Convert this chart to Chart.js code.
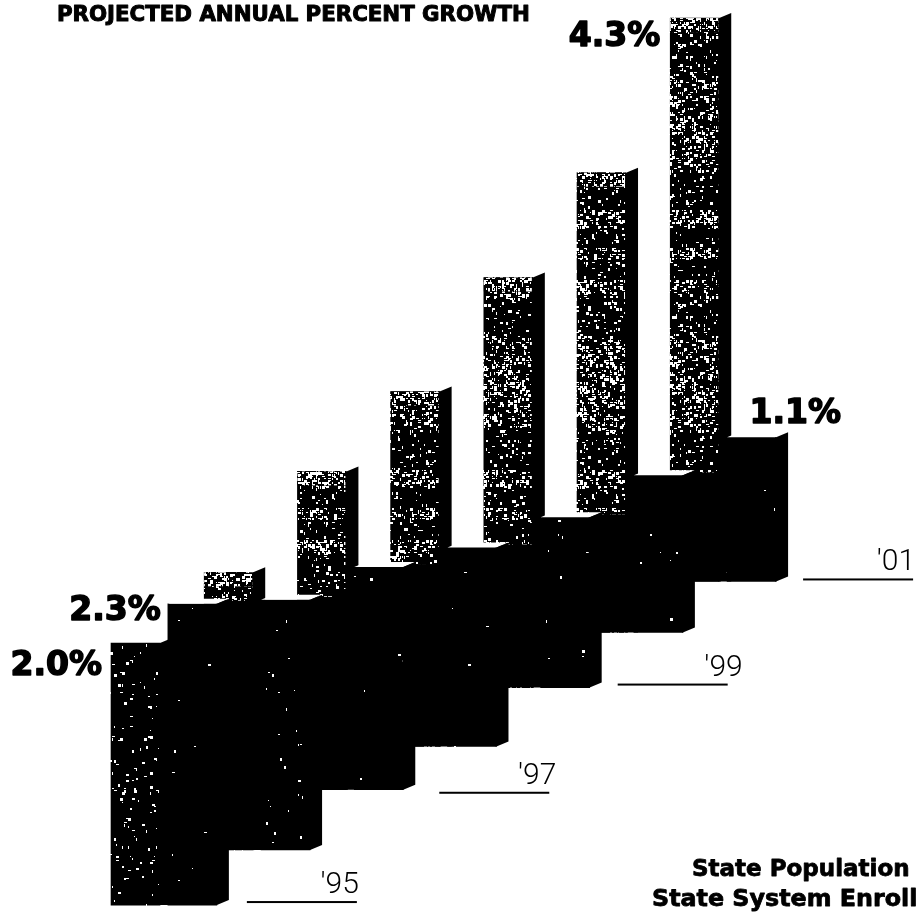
<!DOCTYPE html>
<html>
<head>
<meta charset="utf-8">
<title>Projected annual percent growth</title>
<script src="https://cdn.jsdelivr.net/npm/chart.js@4"></script>
<style>
  html, body { margin: 0; background: #fff; overflow: hidden; }
  canvas { display: block; }
</style>
</head>
<body>
<canvas id="growthChart" width="916" height="912"></canvas>
<script>
const years = [1995, 1996, 1997, 1998, 1999, 2000, 2001];
const yearLabels = ["'95", "'96", "'97", "'98", "'99", "'00", "'01"];
const populationGrowth = [2.3, 1.91, 1.7, 1.52, 1.3, 1.2, 1.1];
const enrollmentGrowth = [2.0, 2.12, 2.43, 2.71, 3.13, 3.51, 4.3];
// each year's bars stand one stair higher than the year before
const stairBase = [0, 0.42, 0.88, 1.21, 1.66, 2.08, 2.47];

const HEAVY = '"DejaVu Sans"';
const DEPTH_X = 12;
const DEPTH_Y = 5;

// small repeatable generator so the print grain is the same on every load
function makeRand(seed) {
  let s = seed;
  return function () {
    s = (s * 1664525 + 1013904223) % 4294967296;
    return s / 4294967296;
  };
}

function grainPattern(size, seed, density, banded) {
  const tile = document.createElement('canvas');
  tile.width = tile.height = size;
  const g = tile.getContext('2d');
  const rand = makeRand(seed);
  g.fillStyle = '#000';
  g.fillRect(0, 0, size, size);
  g.fillStyle = '#fff';
  for (let y = 0; y < size; y += 2) {
    const band = Math.floor(y / 19);
    const level = banded ? 0.4 + 1.5 * Math.pow(Math.abs(Math.sin(band * band * 1.7)), 2) : 1;
    for (let x = 0; x < size; x += 2) {
      if (rand() < density * level) {
        g.fillRect(x, y, 1 + Math.floor(rand() * 3), 1 + Math.floor(rand() * 3));
      }
    }
  }
  return g.createPattern(tile, 'repeat');
}

const denseGrain = grainPattern(260, 7, 0.15, true);
const sparseGrain = grainPattern(260, 23, 0.035, false);
const blackGrain = grainPattern(260, 41, 0.004, false);
const brightGrain = grainPattern(260, 59, 0.42, false);

function facePath(ctx, pts) {
  ctx.beginPath();
  pts.forEach((p, i) => (i ? ctx.lineTo(p[0], p[1]) : ctx.moveTo(p[0], p[1])));
  ctx.closePath();
  ctx.fill();
}

const depthFaces = {
  id: 'depthFaces',
  afterDatasetDraw(chart, args) {
    const ctx = chart.ctx;
    const isFront = args.index === 0;
    const frontBars = chart.getDatasetMeta(0).data;
    ctx.save();
    args.meta.data.forEach((bar, i) => {
      const left = bar.x - bar.width / 2;
      const right = bar.x + bar.width / 2;
      const top = Math.min(bar.y, bar.base);
      const bottom = Math.max(bar.y, bar.base);
      if (isFront) {
        ctx.fillStyle = '#fff';
        facePath(ctx, [[left, top], [right, top], [right + DEPTH_X, top - DEPTH_Y], [left + DEPTH_X, top - DEPTH_Y]]);
      } else if (i > 0) {
        // lighter band of ink along the top of the rear bars
        ctx.fillStyle = brightGrain;
        ctx.fillRect(left, top, bar.width, 14);
        // the year in front throws the lower part of the rear bar into shadow
        const shadowTop = Math.min(frontBars[i - 1].y, frontBars[i - 1].base) - 3;
        ctx.fillStyle = '#000';
        ctx.fillRect(Math.floor(left), shadowTop, Math.ceil(bar.width) + 2, bottom - shadowTop);
      }
      // side face overlaps the front by a pixel so no seam shows between them;
      // rear bars keep a flat foot so the stair has no notch
      const sideFoot = isFront ? bottom - DEPTH_Y : bottom;
      ctx.fillStyle = '#000';
      facePath(ctx, [[right - 1, top], [right, top], [right + DEPTH_X, top - DEPTH_Y], [right + DEPTH_X, sideFoot], [right, bottom], [right - 1, bottom]]);
    });
    ctx.restore();
  }
};

const percentLabels = [
  { dataset: 1, index: 0, dx: -9, dy: 32 },
  { dataset: 0, index: 0, dx: -7, dy: 16 },
  { dataset: 1, index: 6, dx: -10, dy: 28 },
  { dataset: 0, index: 6, dx: 114, dy: -14 }
];
const yearTicks = [
  { index: 0, lineDx: 0, lineY: -3, textDx: 2 },
  { index: 2, lineDx: 6, lineY: 3, textDx: 7 },
  { index: 4, lineDx: -2, lineY: -3, textDx: 15 },
  { index: 6, lineDx: -3, lineY: -2, textDx: 2 }
];

function heavyText(ctx, text, x, y, weight) {
  ctx.lineWidth = weight;
  ctx.strokeText(text, x, y);
  ctx.fillText(text, x, y);
}

const chartText = {
  id: 'chartText',
  afterDraw(chart) {
    const ctx = chart.ctx;
    ctx.save();
    ctx.fillStyle = '#000';
    ctx.strokeStyle = '#000';
    ctx.lineJoin = 'round';
    ctx.textBaseline = 'alphabetic';

    ctx.textAlign = 'left';
    ctx.font = `900 21.3px ${HEAVY}`;
    heavyText(ctx, 'PROJECTED ANNUAL PERCENT GROWTH', 57, 21, 1);

    // value labels hang off the top-left corner of their bars
    ctx.font = `900 33px ${HEAVY}`;
    ctx.textAlign = 'right';
    percentLabels.forEach(l => {
      const bar = chart.getDatasetMeta(l.dataset).data[l.index];
      const value = chart.data.datasets[l.dataset].data[l.index].y;
      const text = (value[1] - value[0]).toFixed(1) + '%';
      heavyText(ctx, text, bar.x - bar.width / 2 + l.dx, Math.min(bar.y, bar.base) + l.dy, 1.5);
    });

    // year labels sit on a short rule beside the foot of each stair
    const frontBars = chart.getDatasetMeta(0).data;
    ctx.font = '300 30px Roboto';
    yearTicks.forEach(t => {
      const bar = frontBars[t.index];
      const x0 = bar.x + bar.width / 2 + DEPTH_X + 18 + t.lineDx;
      const y0 = Math.max(bar.y, bar.base) + t.lineY;
      ctx.fillRect(x0, y0 - 1, 110, 2);
      ctx.fillText(yearLabels[t.index], x0 + 110 + t.textDx, y0 - 9);
    });

    ctx.textAlign = 'left';
    ctx.font = `900 23px ${HEAVY}`;
    heavyText(ctx, chart.data.datasets[0].label, 692, 876, 0.8);
    ctx.font = `900 23.8px ${HEAVY}`;
    heavyText(ctx, chart.data.datasets[1].label, 652, 906, 0.8);
    ctx.restore();
  }
};

const ctx = document.getElementById('growthChart').getContext('2d');
new Chart(ctx, {
  type: 'bar',
  data: {
    datasets: [
      {
        label: 'State Population',
        data: years.map((y, i) => ({ x: y + 0.61, y: [stairBase[i], stairBase[i] + populationGrowth[i]] })),
        backgroundColor: blackGrain,
        barThickness: 49,
        grouped: false,
        borderWidth: 0
      },
      {
        label: 'State System Enroll',
        data: years.map((y, i) => ({ x: y, y: [stairBase[i], stairBase[i] + enrollmentGrowth[i]] })),
        backgroundColor: c => (c.dataIndex === 0 ? sparseGrain : denseGrain),
        barThickness: 49,
        grouped: false,
        borderWidth: 0
      }
    ]
  },
  options: {
    responsive: false,
    animation: false,
    layout: { padding: 0 },
    plugins: {
      legend: { display: false },
      tooltip: { enabled: false }
    },
    scales: {
      x: { type: 'linear', display: false, offset: false, min: 1993.546, max: 2003.374 },
      y: { display: false, min: -0.053, max: 6.908 }
    }
  },
  plugins: [depthFaces, chartText]
});
</script>
</body>
</html>
